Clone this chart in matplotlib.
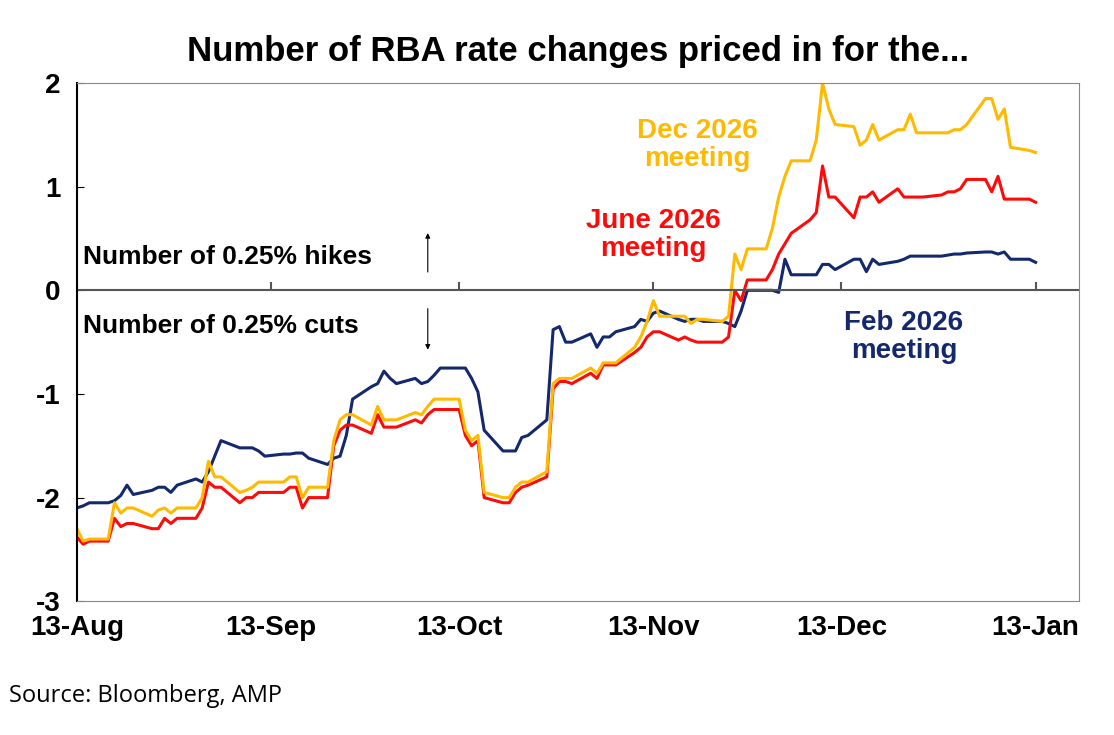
import numpy as np
import pandas as pd
import matplotlib
matplotlib.use("Agg")
from matplotlib import pyplot as plt
import matplotlib.dates as mdates

dates = pd.bdate_range("2025-08-13", "2026-01-13")

feb_2026 = [-2.1, -2.08, -2.05,
            -2.05, -2.03, -1.98, -1.88, -1.97,
            -1.93, -1.9, -1.9, -1.95, -1.88,
            -1.82, -1.85, -1.75, -1.6, -1.45,
            -1.52, -1.52, -1.52, -1.55, -1.6,
            -1.58, -1.58, -1.57, -1.57, -1.62,
            -1.68, -1.62, -1.6, -1.4, -1.05,
            -0.93, -0.9, -0.78, -0.85, -0.9,
            -0.85, -0.9, -0.88, -0.82, -0.75,
            -0.75, -0.75, -0.85, -0.98, -1.35,
            -1.55, -1.55, -1.55, -1.42, -1.4,
            -1.25, -0.38, -0.35, -0.5, -0.5,
            -0.42, -0.55, -0.45, -0.45, -0.4,
            -0.35, -0.28, -0.3, -0.22, -0.2,
            -0.28, -0.3, -0.28, -0.28, -0.3,
            -0.3, -0.32, -0.35, -0.2, 0.0,
            0.0, 0.0, -0.02, 0.3, 0.15,
            0.15, 0.15, 0.25, 0.25, 0.2,
            0.3, 0.3, 0.18, 0.3, 0.25,
            0.28, 0.3, 0.33, 0.33, 0.33,
            0.33, 0.34, 0.35, 0.35, 0.36,
            0.37, 0.37, 0.35, 0.37, 0.3,
            0.3, 0.27]

june_2026 = [-2.38, -2.45, -2.42,
             -2.42, -2.2, -2.28, -2.25, -2.25,
             -2.3, -2.3, -2.2, -2.25, -2.2,
             -2.2, -2.1, -1.85, -1.9, -1.9,
             -2.05, -2.0, -2.0, -1.95, -1.95,
             -1.95, -1.9, -1.9, -2.1, -2.0,
             -2.0, -1.5, -1.35, -1.3, -1.3,
             -1.38, -1.2, -1.32, -1.32, -1.32,
             -1.25, -1.28, -1.2, -1.15, -1.15,
             -1.15, -1.4, -1.5, -1.45, -2.0,
             -2.05, -2.05, -1.95, -1.9, -1.88,
             -1.8, -0.95, -0.88, -0.88, -0.9,
             -0.8, -0.85, -0.72, -0.72, -0.72,
             -0.6, -0.55, -0.45, -0.4, -0.4,
             -0.48, -0.45, -0.48, -0.5, -0.5,
             -0.5, -0.45, 0.0, -0.1, 0.1,
             0.1, 0.2, 0.35, 0.45, 0.55,
             0.68, 0.75, 1.2, 0.9, 0.9,
             0.7, 0.9, 0.9, 0.95, 0.85,
             0.98, 0.9, 0.9, 0.9, 0.9,
             0.92, 0.95, 0.95, 0.98, 1.07,
             1.07, 0.95, 1.1, 0.88, 0.88,
             0.88, 0.85]

dec_2026 = [-2.3, -2.42, -2.4,
            -2.4, -2.05, -2.15, -2.1, -2.1,
            -2.18, -2.12, -2.1, -2.15, -2.1,
            -2.1, -2.0, -1.65, -1.8, -1.8,
            -1.95, -1.93, -1.9, -1.85, -1.85,
            -1.85, -1.8, -1.8, -2.0, -1.9,
            -1.9, -1.45, -1.25, -1.2, -1.2,
            -1.3, -1.12, -1.25, -1.25, -1.25,
            -1.18, -1.2, -1.12, -1.05, -1.05,
            -1.05, -1.35, -1.45, -1.4, -1.95,
            -2.0, -2.0, -1.9, -1.85, -1.85,
            -1.75, -0.9, -0.85, -0.85, -0.85,
            -0.75, -0.8, -0.7, -0.7, -0.7,
            -0.55, -0.45, -0.3, -0.1, -0.25,
            -0.25, -0.25, -0.32, -0.28, -0.28,
            -0.3, -0.25, 0.35, 0.2, 0.4,
            0.4, 0.6, 0.9, 1.1, 1.25,
            1.25, 1.45, 2.0, 1.75, 1.6,
            1.58, 1.4, 1.45, 1.6, 1.45,
            1.55, 1.55, 1.7, 1.52, 1.52,
            1.52, 1.52, 1.55, 1.55, 1.6,
            1.85, 1.85, 1.65, 1.75, 1.38,
            1.35, 1.33]

tick_dates = pd.to_datetime(["2025-08-13", "2025-09-13", "2025-10-13",
                             "2025-11-13", "2025-12-13", "2026-01-13"])
tick_labels = ["13-Aug", "13-Sep", "13-Oct", "13-Nov", "13-Dec", "13-Jan"]

navy = "#14286e"
red = "#ff0a0a"
gold = "#ffba00"

plt.rcParams['font.family'] = ['Liberation Sans', 'DejaVu Sans']
plt.rcParams['axes.unicode_minus'] = False

fig = plt.figure(figsize=(11.14, 7.35), dpi=100)
ax = fig.add_axes([0.069, 0.182, 0.9, 0.705])

ax.plot(dates, feb_2026, color=navy, lw=2.2)
ax.plot(dates, june_2026, color=red, lw=2.2)
ax.plot(dates, dec_2026, color=gold, lw=2.2)

ax.set_xlim(pd.Timestamp("2025-08-13"), pd.Timestamp("2026-01-20"))
ax.set_ylim(-3, 2)
ax.set_yticks([-3, -2, -1, 0, 1, 2])
ax.set_xticks(tick_dates)
ax.set_xticklabels(tick_labels)
ax.tick_params(axis='x', labelsize=20, length=0, pad=10)
ax.tick_params(axis='y', labelsize=20, length=5, direction='in', pad=12)
for lab in ax.get_xticklabels() + ax.get_yticklabels():
    lab.set_fontweight('bold')
for s in ax.spines.values():
    s.set_color('#888888')
ax.spines['left'].set_color('black')
ax.spines['left'].set_linewidth(1.5)

# zero line with small tick marks
ax.axhline(0, color='#555555', lw=1.5)
ax.vlines(tick_dates, 0, 0.08, color='#555555', lw=1.5)

ax.set_title("Number of RBA rate changes priced in for the...", fontsize=25,
             fontweight='bold', pad=16)

ax.text(pd.Timestamp("2025-08-14"), 0.32, "Number of 0.25% hikes", fontsize=19,
        fontweight='bold', va='center')
ax.text(pd.Timestamp("2025-08-14"), -0.34, "Number of 0.25% cuts", fontsize=19,
        fontweight='bold', va='center')
arrow_x = pd.Timestamp("2025-10-08")
ax.annotate("", xy=(arrow_x, 0.58), xytext=(arrow_x, 0.15),
            arrowprops=dict(arrowstyle='-|>', color='black', lw=0.8, mutation_scale=7))
ax.annotate("", xy=(arrow_x, -0.6), xytext=(arrow_x, -0.15),
            arrowprops=dict(arrowstyle='-|>', color='black', lw=0.8, mutation_scale=7))

ax.text(pd.Timestamp("2025-11-20"), 1.4, "Dec 2026\nmeeting", color=gold, fontsize=20,
        fontweight='bold', ha='center', va='center', linespacing=1.1)
ax.text(pd.Timestamp("2025-11-13"), 0.53, "June 2026\nmeeting", color=red, fontsize=20,
        fontweight='bold', ha='center', va='center', linespacing=1.1)
ax.text(pd.Timestamp("2025-12-23"), -0.45, "Feb 2026\nmeeting", color=navy, fontsize=20,
        fontweight='bold', ha='center', va='center', linespacing=1.1)

fig.text(0.008, 0.045, "Source: Bloomberg, AMP", fontsize=17, family=['Open Sans', 'DejaVu Sans'])

fig.savefig("out.png", dpi=100)
